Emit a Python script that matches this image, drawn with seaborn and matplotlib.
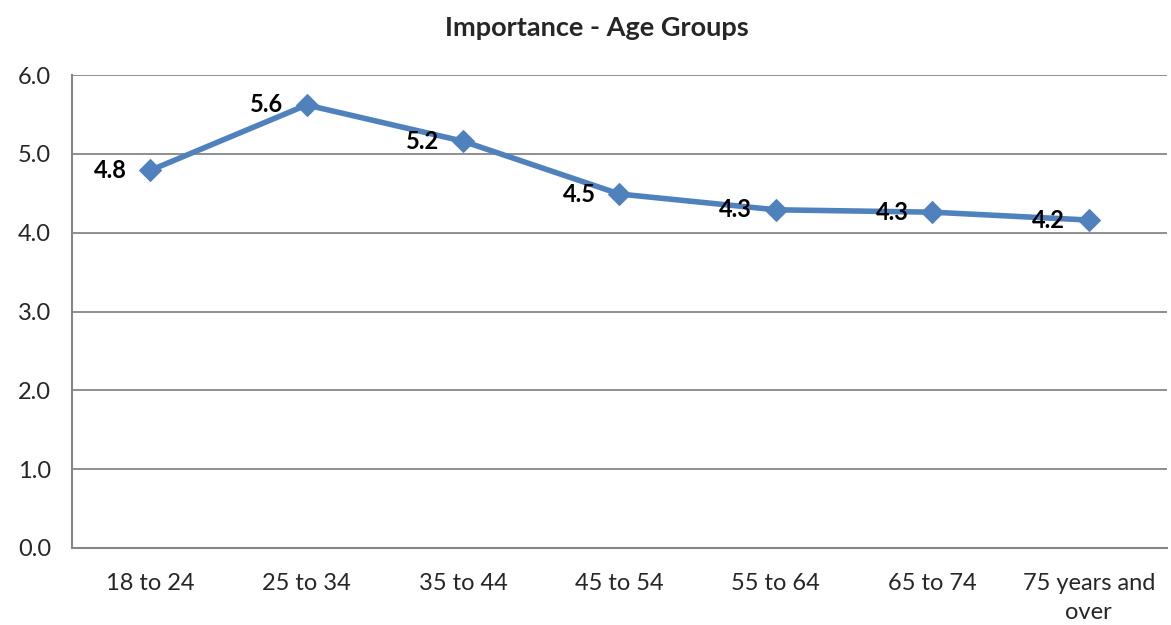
import pandas as pd
import seaborn as sns
import matplotlib.pyplot as plt
from matplotlib.ticker import FixedLocator

age_groups = ['18 to 24', '25 to 34', '35 to 44', '45 to 54', '55 to 64', '65 to 74', '75 years and\nover']
importance = [4.79, 5.62, 5.16, 4.49, 4.29, 4.26, 4.16]

df = pd.DataFrame({'age': age_groups, 'importance': importance})
df['pos'] = range(len(df))

sns.set_style('white')
plt.rcParams['font.family'] = ['Lato', 'DejaVu Sans']

fig = plt.figure(figsize=(11.71, 6.25), dpi=100)
ax = fig.add_axes([0.0615, 0.1232, 0.935, 0.7568])

line_color = '#4F81BD'
grid_color = '#868686'

sns.lineplot(data=df, x='pos', y='importance', ax=ax, color=line_color,
             linewidth=4, marker='D', markersize=11, markeredgecolor=line_color)

for _, r in df.iterrows():
    ax.annotate(f"{r['importance']:.1f}", (r['pos'], r['importance']),
                xytext=(-17, 0), textcoords='offset points', ha='right', va='center',
                fontsize=17, fontweight='bold', color='black')

ax.set_xlim(-0.5, len(df) - 0.5)
ax.set_ylim(0, 6)
ax.set_yticks([0, 1, 2, 3, 4, 5, 6])
ax.set_yticklabels([f"{v:.1f}" for v in range(7)], fontsize=17)
ax.set_xticks(df['pos'])
ax.set_xticklabels(age_groups, fontsize=17, linespacing=1.45)
ax.xaxis.set_minor_locator(FixedLocator([i - 0.5 for i in range(len(df) + 1)]))
ax.tick_params(axis='x', which='major', length=0, pad=18)
ax.tick_params(axis='x', which='minor', length=6, width=1.5, color=grid_color, direction='out')
ax.tick_params(axis='y', length=6, width=1.5, color=grid_color, direction='out', pad=9)

ax.grid(axis='y', color=grid_color, linewidth=1.3)
ax.set_axisbelow(True)
for s in ['top', 'right']:
    ax.spines[s].set_visible(False)
for s in ['left', 'bottom']:
    ax.spines[s].set_color(grid_color)
    ax.spines[s].set_linewidth(1.5)

ax.set_xlabel('')
ax.set_ylabel('')
ax.set_title('Importance - Age Groups', fontsize=19.5, fontweight='bold', pad=28, x=0.479)

fig.savefig('out.png', dpi=100)
